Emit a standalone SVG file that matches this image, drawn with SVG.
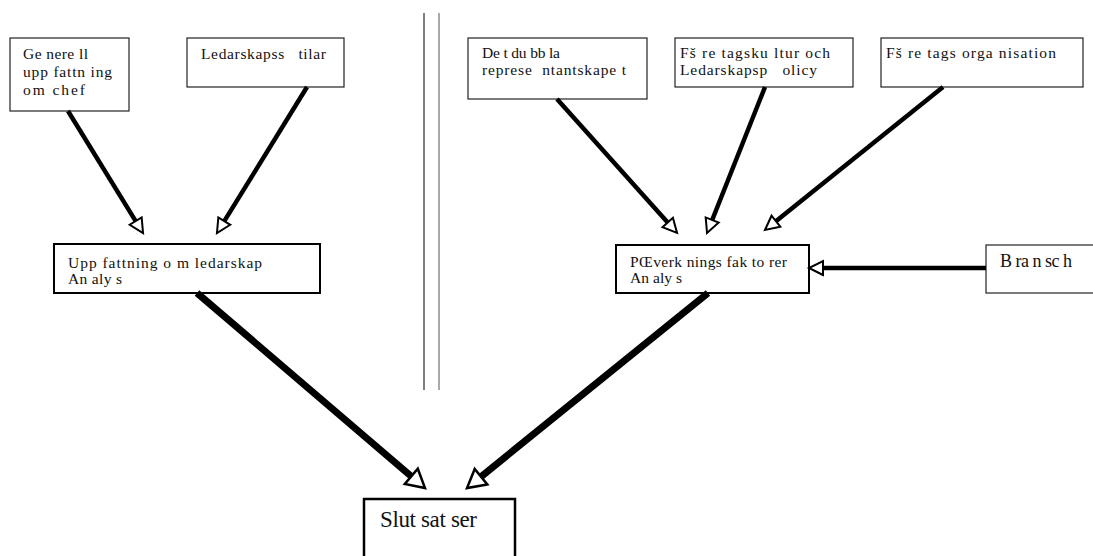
<svg xmlns="http://www.w3.org/2000/svg" width="1093" height="556" viewBox="0 0 1093 556">
<style>
  .box{fill:#fff;stroke:#222;stroke-width:1.2}
  .boxb{fill:#fff;stroke:#000;stroke-width:2}
  .t{font-family:"Liberation Serif","Times New Roman",serif;font-size:15.5px;fill:#111}
  .thin{stroke:#000;stroke-width:4.5;fill:none;marker-end:url(#head)}
  .thick{stroke:#000;stroke-width:7;fill:none;marker-end:url(#headB)}
</style>
<defs>
  <marker id="head" markerUnits="userSpaceOnUse" markerWidth="20" markerHeight="20" refX="0" refY="8" orient="auto" overflow="visible">
    <path d="M0,1 L14,8 L0,15 z" fill="#fff" stroke="#000" stroke-width="2"/>
  </marker>
  <marker id="headB" markerUnits="userSpaceOnUse" markerWidth="24" markerHeight="24" refX="0" refY="10" orient="auto" overflow="visible">
    <path d="M0,0 L18,10 L0,20 z" fill="#fff" stroke="#000" stroke-width="2.5"/>
  </marker>
</defs>

<g id="divider">
  <line x1="424" y1="13" x2="424" y2="390" stroke="#000" stroke-width="1"/>
  <line x1="439" y1="13" x2="439" y2="390" stroke="#555" stroke-width="1"/>
</g>

<g id="n-generell">
  <rect class="box" x="10" y="38" width="119" height="73"/>
  <text class="t" x="23" y="59" textLength="65" lengthAdjust="spacing">Ge nere ll</text>
  <text class="t" x="23" y="77" textLength="89" lengthAdjust="spacing">upp fattn ing</text>
  <text class="t" x="23" y="95" textLength="62" lengthAdjust="spacing">om chef</text>
</g>

<g id="n-ledarskapsstilar">
  <rect class="box" x="187" y="38" width="157" height="49"/>
  <text class="t" x="201" y="59" textLength="125" lengthAdjust="spacing" xml:space="preserve">Ledarskapss   tilar</text>
</g>

<g id="n-dubbla">
  <rect class="box" x="468" y="38" width="179" height="61"/>
  <text class="t" x="482" y="58" textLength="78" lengthAdjust="spacing">De t du bb la</text>
  <text class="t" x="482" y="75" textLength="144" lengthAdjust="spacing" xml:space="preserve">represe  ntantskape t</text>
</g>

<g id="n-foretagskultur">
  <rect class="box" x="675" y="38" width="178" height="49"/>
  <text class="t" x="680" y="58" textLength="150" lengthAdjust="spacing">Fš re tagsku ltur och</text>
  <text class="t" x="680" y="75" textLength="137" lengthAdjust="spacing" xml:space="preserve">Ledarskapsp   olicy</text>
</g>

<g id="n-foretagsorganisation">
  <rect class="box" x="881" y="38" width="202" height="49"/>
  <text class="t" x="886" y="58" textLength="170" lengthAdjust="spacing">Fš re tags orga nisation</text>
</g>

<g id="n-uppfattning">
  <rect class="boxb" x="54" y="244" width="266" height="49"/>
  <text class="t" x="68" y="268" textLength="194" lengthAdjust="spacing">Upp fattning o m ledarskap</text>
  <text class="t" x="68" y="284" textLength="54" lengthAdjust="spacing">An aly s</text>
</g>

<g id="n-paverkning">
  <rect class="boxb" x="616" y="245" width="193" height="48"/>
  <text class="t" x="630" y="267" textLength="157" lengthAdjust="spacing">PŒverk nings fak to rer</text>
  <text class="t" x="630" y="283" textLength="52" lengthAdjust="spacing">An aly s</text>
</g>

<g id="n-bransch">
  <rect class="box" x="986" y="245" width="110" height="48"/>
  <text class="t" x="1000" y="267" style="font-size:18px" textLength="72" lengthAdjust="spacing">B ra n sc h</text>
</g>

<g id="n-slutsatser">
  <rect x="364" y="499" width="151" height="70" fill="#fff" stroke="#000" stroke-width="2.5"/>
  <text class="t" x="380" y="527" style="font-size:23px" textLength="97" lengthAdjust="spacing">Slut sat ser</text>
</g>

<g id="connectors">
  <line class="thin" x1="68" y1="111" x2="135.7" y2="221.1"/>
  <line class="thin" x1="307" y1="87" x2="224.3" y2="221.1"/>
  <line class="thin" x1="557" y1="99" x2="667.7" y2="222.5"/>
  <line class="thin" x1="765" y1="87" x2="712.2" y2="220"/>
  <line class="thin" x1="943" y1="87" x2="775.9" y2="221.2"/>
  <line class="thin" x1="986" y1="268" x2="823" y2="268"/>
  <line class="thick" x1="197" y1="293" x2="411.3" y2="476.3"/>
  <line class="thick" x1="708" y1="293" x2="481" y2="476.7"/>
</g>
</svg>
